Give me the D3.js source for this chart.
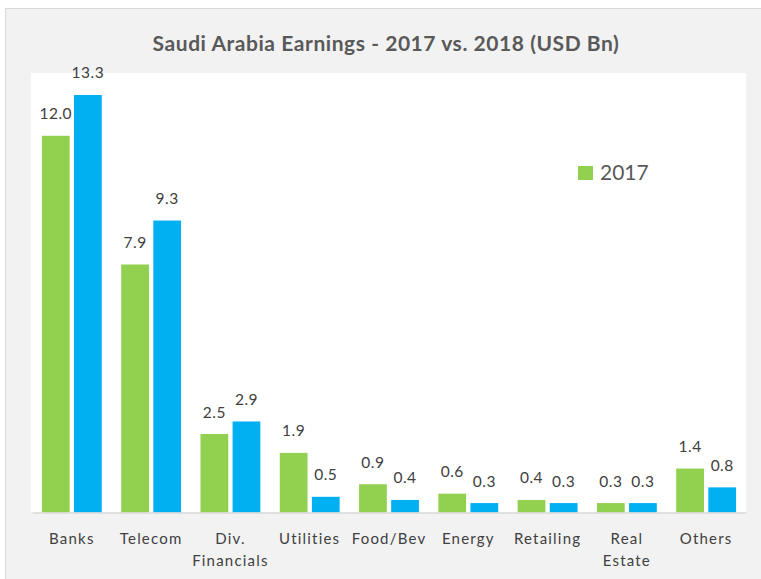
<!DOCTYPE html>
<html>
<head>
<meta charset="utf-8">
<script src="https://cdn.jsdelivr.net/npm/d3@7"></script>
<style>
  body { margin: 0; background: #ffffff; }
  svg { display: block; }
</style>
</head>
<body>
<svg></svg>
<script>
// data
const categories = ["Banks", "Telecom", "Div. Financials", "Utilities", "Food/Bev", "Energy", "Retailing", "Real Estate", "Others"];
const categoryLines = [["Banks"], ["Telecom"], ["Div.", "Financials"], ["Utilities"], ["Food/Bev"], ["Energy"], ["Retailing"], ["Real", "Estate"], ["Others"]];
const years = ["2017", "2018"];
const values2017 = [12.0, 7.9, 2.5, 1.9, 0.9, 0.6, 0.4, 0.3, 1.4];
const values2018 = [13.3, 9.3, 2.9, 0.5, 0.4, 0.3, 0.3, 0.3, 0.8];

const W = 761, H = 579;
const COLORS = { "2017": "#92d050", "2018": "#00b0f0" };
const FONT = "Lato, 'Open Sans', sans-serif";
const TEXT = "#404040";

const svg = d3.select("svg").attr("width", W).attr("height", H);

// chart frame
svg.append("rect")
  .attr("x", 5.5).attr("y", 8.5)
  .attr("width", W).attr("height", H)
  .attr("fill", "#f2f2f2")
  .attr("stroke", "#d9d9d9");

// plot area
const plot = { left: 32, right: 746, top: 73, bottom: 512.5 };
svg.append("rect")
  .attr("x", 31).attr("y", plot.top)
  .attr("width", plot.right - 31).attr("height", plot.bottom - plot.top)
  .attr("fill", "#ffffff");

// title
svg.append("text")
  .attr("x", 386).attr("y", 51)
  .attr("text-anchor", "middle")
  .attr("font-family", FONT)
  .attr("font-size", 21)
  .attr("font-weight", "bold")
  .attr("letter-spacing", 0.55)
  .attr("fill", "#595959")
  .text("Saudi Arabia Earnings - 2017 vs. 2018 (USD Bn)");

// scales
const x = d3.scaleBand()
  .domain(categories)
  .range([plot.left, plot.right])
  .paddingInner(0.245)
  .paddingOuter(0.125);

const xSub = d3.scaleBand()
  .domain(years)
  .range([0, x.bandwidth()])
  .paddingInner(0.135);

const y = d3.scaleLinear()
  .domain([0, 14])
  .range([plot.bottom, plot.top]);

const rows = categories.map((c, i) => ({
  category: c,
  lines: categoryLines[i],
  vals: [{ year: "2017", v: values2017[i] }, { year: "2018", v: values2018[i] }]
}));

// bars
const groups = svg.append("g").selectAll("g")
  .data(rows)
  .join("g")
  .attr("transform", d => `translate(${x(d.category)},0)`);

groups.selectAll("rect")
  .data(d => d.vals)
  .join("rect")
  .attr("x", d => xSub(d.year))
  .attr("y", d => y(d.v))
  .attr("width", xSub.bandwidth())
  .attr("height", d => y(0) - y(d.v))
  .attr("fill", d => COLORS[d.year]);

// value labels
groups.selectAll("text")
  .data(d => d.vals)
  .join("text")
  .attr("x", d => xSub(d.year) + xSub.bandwidth() / 2)
  .attr("y", d => y(d.v) - 16.5)
  .attr("text-anchor", "middle")
  .attr("font-family", FONT)
  .attr("font-size", 15.5)
  .attr("letter-spacing", 0.5)
  .attr("fill", TEXT)
  .text(d => d.v.toFixed(1));

// x axis
const xAxis = svg.append("g")
  .attr("transform", `translate(0,${plot.bottom})`)
  .call(d3.axisBottom(x).tickSize(0).tickFormat(""));
xAxis.select(".domain").attr("stroke", "#d9d9d9").attr("stroke-width", 1.5);

const cx = d => x(d) + x.bandwidth() / 2;
svg.append("g").selectAll("text")
  .data(rows)
  .join("text")
  .attr("text-anchor", "middle")
  .attr("font-family", FONT)
  .attr("font-size", 15)
  .attr("letter-spacing", 1.2)
  .attr("fill", TEXT)
  .each(function (d) {
    const t = d3.select(this);
    d.lines.forEach((line, k) => {
      t.append("tspan")
        .attr("x", cx(d.category))
        .attr("y", 544 + k * 22)
        .text(line);
    });
  });

// legend (only 2017 visible)
const legend = svg.append("g").attr("transform", "translate(578,166)");
legend.append("rect")
  .attr("width", 15).attr("height", 14)
  .attr("fill", COLORS["2017"]);
legend.append("text")
  .attr("x", 22).attr("y", 14)
  .attr("font-family", FONT)
  .attr("font-size", 21)
  .attr("fill", "#595959")
  .text("2017");
</script>
</body>
</html>
